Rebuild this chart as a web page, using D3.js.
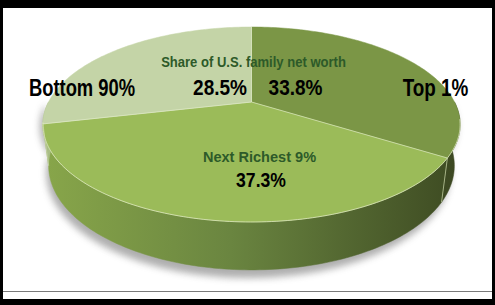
<!DOCTYPE html>
<html>
<head>
<meta charset="utf-8">
<script src="https://cdn.jsdelivr.net/npm/d3@7"></script>
<style>
  html, body { margin: 0; padding: 0; background: #000; }
  svg { display: block; }
  text { font-family: "Liberation Sans", Arial, sans-serif; font-weight: bold; }
</style>
</head>
<body>
<svg id="chart" width="495" height="305"></svg>
<script>
// ---- data ----
const categories = ["Top 1%", "Next Richest 9%", "Bottom 90%"];
const shares = [33.8, 37.3, 28.5];
const shareLabels = ["33.8%", "37.3%", "28.5%"];
const title = "Share of U.S. family net worth";

// ---- styling ----
const topColors = ["#7b9646", "#9bbb59", "#c4d4a7"];
const sideStops = [
  [["0", "#55662f"], ["1", "#3c4822"]],
  [["0", "#88a64a"], ["0.45", "#6a8540"], ["1", "#3d4a22"]],
  [["0", "#a9bd86"], ["1", "#a9bd86"]]
];

const W = 495, H = 305;
const svg = d3.select("#chart");

// frame
svg.append("rect").attr("width", W).attr("height", H).attr("fill", "#000");
svg.append("rect").attr("x", 3).attr("y", 8).attr("width", 489).attr("height", 291).attr("fill", "#fff");
svg.append("line").attr("x1", 3).attr("x2", 492).attr("y1", 291.5).attr("y2", 291.5)
  .attr("stroke", "#7a7a7a").attr("stroke-width", 1.2);

// ---- perspective projection of a disc ----
const cx = 251.5, cy = 102, S = 203;
const phi = Math.asin(92.3 / 203);
const rr = 0.259;      // radius / camera distance
const hn = 0.229;      // thickness / radius
function proj(theta, h, rad = 1) {
  const x = rad * Math.sin(theta), z = -rad * Math.cos(theta);
  const den = 1 + rr * (h * Math.sin(phi) - z * Math.cos(phi));
  return [cx + S * x / den, cy + S * (h * Math.cos(phi) + z * Math.sin(phi)) / den];
}

const pie = d3.pie().sort(null).value(d => d).startAngle(0).endAngle(2 * Math.PI);
const arcs = pie(shares);

function rimPoints(a0, a1, h) {
  const n = Math.max(2, Math.ceil(Math.abs(a1 - a0) / 0.02));
  return d3.range(n + 1).map(i => proj(a0 + (a1 - a0) * i / n, h));
}
const line = d3.line();

const defs = svg.append("defs");
defs.append("filter").attr("id", "blur").attr("x", "-20%").attr("y", "-20%").attr("width", "140%").attr("height", "140%")
  .append("feGaussianBlur").attr("stdDeviation", 3.5);
sideStops.forEach((stops, i) => {
  const g = defs.append("linearGradient").attr("id", "side" + i)
    .attr("gradientUnits", "userSpaceOnUse").attr("x1", 43).attr("x2", 460).attr("y1", 0).attr("y2", 0);
  stops.forEach(s => g.append("stop").attr("offset", s[0]).attr("stop-color", s[1]));
});

// shadow
const shadowPts = rimPoints(Math.PI / 2, 3 * Math.PI / 2, hn + 0.03).map(p => [p[0] - 3, p[1] + 2]);
svg.append("path")
  .attr("d", line(rimPoints(Math.PI / 2, 3 * Math.PI / 2, 0).map(p => [p[0] - 3, p[1] + 2]).concat(shadowPts.reverse())) + "Z")
  .attr("fill", "#6d6d6d").attr("opacity", 0.55).attr("filter", "url(#blur)");

// side walls (front half only)
const front0 = Math.PI / 2, front1 = 3 * Math.PI / 2;
arcs.forEach((a, i) => {
  const s0 = Math.max(a.startAngle, front0), s1 = Math.min(a.endAngle, front1);
  if (s1 <= s0) return;
  const pts = rimPoints(s0, s1, 0).concat(rimPoints(s1, s0, hn));
  svg.append("path").attr("d", line(pts) + "Z").attr("fill", `url(#side${i})`)
    .attr("stroke", `url(#side${i})`).attr("stroke-width", 0.5);
});

// top faces
arcs.forEach((a, i) => {
  const pts = [proj(0, 0, 0)].concat(rimPoints(a.startAngle, a.endAngle, 0));
  svg.append("path").attr("d", line(pts) + "Z").attr("fill", topColors[i])
    .attr("stroke", topColors[i]).attr("stroke-width", 0.5);
});

// highlight along front rim and dividers
svg.append("path").attr("d", line(rimPoints(1.75, 4.5, 0)))
  .attr("fill", "none").attr("stroke", "#e4edc9").attr("stroke-width", 0.9).attr("opacity", 0.8);
arcs.forEach(a => {
  const c = proj(0, 0, 0), e = proj(a.startAngle, 0);
  svg.append("line").attr("x1", c[0]).attr("y1", c[1]).attr("x2", e[0]).attr("y2", e[1])
    .attr("stroke", "#e6efcf").attr("stroke-width", 0.8).attr("opacity", 0.75);
  if (a.startAngle > front0 && a.startAngle < front1) {
    const b = proj(a.startAngle, hn);
    svg.append("line").attr("x1", e[0]).attr("y1", e[1]).attr("x2", b[0]).attr("y2", b[1])
      .attr("stroke", "#c9d6a8").attr("stroke-width", 0.9).attr("opacity", 0.8);
  }
});

// ---- labels ----
function label(txt, x, y, size, sx, color) {
  svg.append("text").attr("transform", `translate(${x},${y}) scale(${sx},1)`)
    .attr("text-anchor", "middle").attr("font-size", size).attr("fill", color).text(txt);
}
label(categories[2], 82, 96, 23, 0.80, "#000");
label(categories[0], 435.5, 96, 23, 0.82, "#000");
label(title, 253.5, 67, 15, 0.87, "#2d5a29");
label(shareLabels[2], 220, 95, 22, 0.865, "#000");
label(shareLabels[0], 295.5, 95, 22, 0.865, "#000");
label(categories[1], 259.5, 162, 15, 0.97, "#2d5a29");
label(shareLabels[1], 261, 187, 20, 0.88, "#000");
</script>
</body>
</html>
